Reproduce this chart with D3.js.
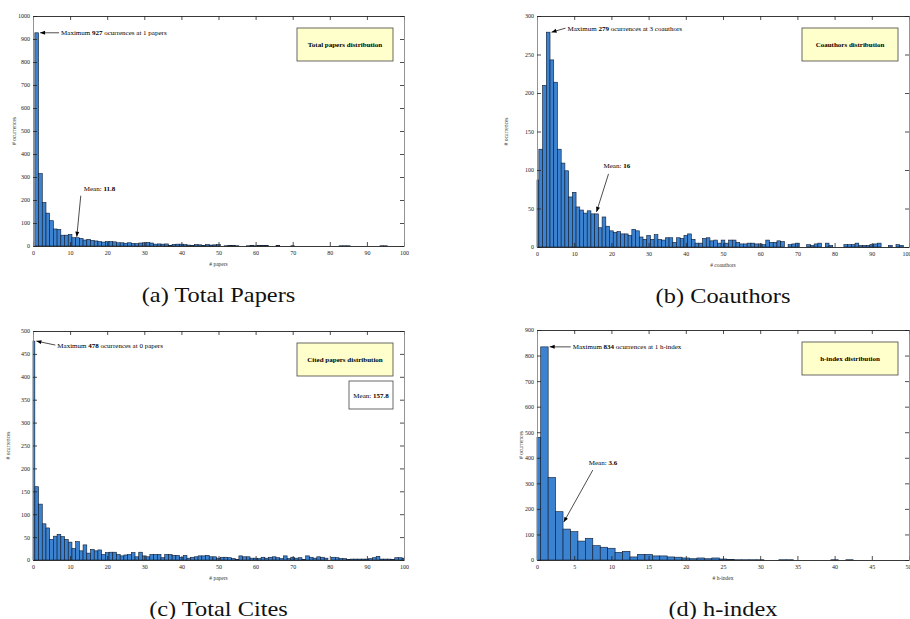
<!DOCTYPE html>
<html>
<head>
<meta charset="utf-8">
<style>
body{margin:0;background:#fff;}
text{font-family:"Liberation Serif","Times New Roman",serif;}
</style>
<script src="https://d3js.org/d3.v7.min.js"></script>
</head>
<body>
<script>
// histogram counts, one value per integer bin (bin i covers i-0.5 .. i+0.5)
const papersCounts = [0,927,315,189,143,110,74,72,47,47,50,
  36,36,33,26,29,24,22,19,17,19,
  19,18,14,14,12,14,11,10,13,14,
  15,13,8,9,8,9,3,7,8,8,
  6,4,3,6,5,2,6,4,5,6,
  0,1,2,2,1,0,0,1,2,1,
  3,3,2,0,0,2,0,0,0,1,
  0,0,0,0,0,0,0,0,0,0,
  0,0,1,1,1,0,0,0,0,0,
  0,0,0,1,1,0,0,0,0,0];
const coauthorsCounts = [87,127,210,279,243,214,127,109,99,65,71,
  52,48,44,47,43,43,25,39,27,21,
  19,20,17,17,15,23,21,13,10,15,
  10,16,10,9,12,12,6,12,11,15,
  17,10,5,5,11,12,8,9,5,9,
  5,9,9,6,4,4,5,5,4,4,
  3,9,6,6,8,7,0,3,4,5,
  0,0,3,2,4,5,0,5,2,0,
  0,0,3,3,3,5,2,2,2,3,
  4,5,0,0,2,0,3,2,0,0];
const citesCounts = [478,160,122,79,70,45,52,56,51,45,39,
  25,40,20,33,15,23,20,22,12,16,
  17,17,12,9,11,12,16,7,17,9,
  7,12,12,12,5,12,12,10,10,6,
  10,4,6,7,9,9,10,7,7,4,
  6,6,5,3,1,9,7,7,4,4,
  3,6,4,6,7,5,3,9,3,6,
  4,5,1,9,6,4,7,6,4,0,
  6,5,3,3,1,2,2,2,2,2,
  3,5,8,2,2,2,1,5,5,4];
const hindexCounts = [480,834,323,189,121,111,74,85,56,50,46,
  30,34,12,22,22,16,16,12,11,8,
  5,8,5,8,4,2,1,1,1,1,
  0,0,1,1,0,0,0,0,0,1,
  0,1,0,0,0,0,0,0,0,0];

const xTicks100 = [0,10,20,30,40,50,60,70,80,90,100];
const xTicks50 = [0,5,10,15,20,25,30,35,40,45,50];
const yTicksPapers = [0,100,200,300,400,500,600,700,800,900,1000];
const yTicksCoauthors = [0,50,100,150,200,250,300];
const yTicksCites = [0,50,100,150,200,250,300,350,400,450,500];
const yTicksHindex = [0,100,200,300,400,500,600,700,800,900];

const means = [11.8, 16, 157.8, 3.6];
const maxBins = [1, 3, 0, 1];

const panels = [
  {counts: papersCounts, xTicks: xTicks100, yTicks: yTicksPapers, mean: means[0], maxBin: maxBins[0],
   unit: "papers", xLabel: "# papers", title: "Total papers distribution", caption: "(a) Total Papers",
   left: 33, right: 404, top: 16, bottom: 246, ylx: 17,
   maxOff: [21, 0], meanArrow: true, meanText: [7, -48], meanTail: [4, -41], meanGap: 1},
  {counts: coauthorsCounts, xTicks: xTicks100, yTicks: yTicksCoauthors, mean: means[1], maxBin: maxBins[1],
   unit: "coauthors", xLabel: "# coauthors", title: "Coauthors distribution", caption: "(b) Coauthors",
   left: 537, right: 909, top: 16, bottom: 247, ylx: 29,
   maxOff: [16, -4], meanArrow: true, meanText: [7, -46], meanTail: [12, -38], meanGap: 2},
  {counts: citesCounts, xTicks: xTicks100, yTicks: yTicksCites, mean: means[2], maxBin: maxBins[2],
   unit: "papers", xLabel: "# papers", title: "Cited papers distribution", caption: "(c) Total Cites",
   left: 33, right: 404, top: 331, bottom: 560, ylx: 23,
   maxOff: [21, 4], meanArrow: false},
  {counts: hindexCounts, xTicks: xTicks50, yTicks: yTicksHindex, mean: means[3], maxBin: maxBins[3],
   unit: "h-index", xLabel: "# h-index", title: "h-index distribution", caption: "(d) h-index",
   left: 537, right: 909, top: 330, bottom: 560, ylx: 14,
   maxOff: [23, 0], meanArrow: true, meanText: [25, -60], meanTail: [29, -52], meanGap: 7}
];

const W = 910, H = 619;
const svg = d3.select("body").append("svg")
  .attr("width", W).attr("height", H)
  .style("display", "block").style("background", "#fff");

svg.append("defs").append("marker")
  .attr("id", "arr").attr("viewBox", "0 0 10 10")
  .attr("refX", 10).attr("refY", 5)
  .attr("markerUnits", "userSpaceOnUse")
  .attr("markerWidth", 6).attr("markerHeight", 5)
  .attr("orient", "auto")
  .append("path").attr("d", "M0,1L10,5L0,9z").attr("fill", "#000");

function styleAxis(g, col){
  g.attr("font-family", null).attr("font-size", null);
  g.select(".domain").attr("stroke", col).attr("stroke-width", 0.9);
  g.selectAll(".tick line").attr("stroke", "#222").attr("stroke-width", 0.8);
  g.selectAll(".tick text").attr("fill", "#222").style("font-size", "6px");
}

function drawPanel(p){
  const g = svg.append("g");
  const xMax = p.xTicks[p.xTicks.length - 1];
  const yMax = p.yTicks[p.yTicks.length - 1];
  const x = d3.scaleLinear().domain([0, xMax]).range([p.left, p.right]);
  const y = d3.scaleLinear().domain([0, yMax]).range([p.bottom, p.top]);

  const bins = p.counts.map((c, i) => ({i: i, c: c})).filter(d => d.c > 0);
  g.selectAll("rect.bar").data(bins).join("rect")
    .attr("class", "bar")
    .attr("x", d => x(Math.max(0, d.i - 0.5)))
    .attr("width", d => x(Math.min(xMax, d.i + 0.5)) - x(Math.max(0, d.i - 0.5)))
    .attr("y", d => y(d.c))
    .attr("height", d => y(0) - y(d.c))
    .attr("fill", "#3b82d0")
    .attr("stroke", "#0d1a2e")
    .attr("stroke-width", 0.6);

  const fmt = d3.format("d");
  const ax = [
    g.append("g").attr("transform", `translate(0,${p.bottom})`)
      .call(d3.axisBottom(x).tickValues(p.xTicks).tickFormat(fmt).tickSizeInner(-4).tickSizeOuter(0).tickPadding(5)),
    g.append("g").attr("transform", `translate(0,${p.top})`)
      .call(d3.axisTop(x).tickValues(p.xTicks).tickSizeInner(-4).tickSizeOuter(0).tickFormat("")),
    g.append("g").attr("transform", `translate(${p.left},0)`)
      .call(d3.axisLeft(y).tickValues(p.yTicks).tickFormat(fmt).tickSizeInner(-4).tickSizeOuter(0).tickPadding(3)),
    g.append("g").attr("transform", `translate(${p.right},0)`)
      .call(d3.axisRight(y).tickValues(p.yTicks).tickSizeInner(-4).tickSizeOuter(0).tickFormat(""))
  ];
  styleAxis(ax[0], "#222");
  styleAxis(ax[1], "#222");
  styleAxis(ax[2], "#888");
  styleAxis(ax[3], "#888");
  // keep the last x label inside the page when the axis ends at the edge
  if (p.right + 6 > W) {
    ax[0].selectAll(".tick text").filter(d => d === xMax).attr("text-anchor", "end").attr("dx", 2);
  }

  // axis labels
  g.append("text")
    .attr("x", (p.left + p.right) / 2).attr("y", p.bottom + 20)
    .attr("text-anchor", "middle").style("font-size", "5.5px").attr("fill", "#333")
    .text(p.xLabel);
  g.append("text")
    .attr("transform", `translate(${p.left - p.ylx},${(p.top + p.bottom) / 2}) rotate(-90)`)
    .attr("text-anchor", "middle").style("font-size", "5.5px").attr("fill", "#333")
    .text("# ocurrences");

  // title box
  const bx = p.right - 107, by = p.top + 12;
  g.append("rect").attr("x", bx).attr("y", by).attr("width", 96).attr("height", 33)
    .attr("fill", "#ffffcc").attr("stroke", "#444").attr("stroke-width", 0.8);
  g.append("text").attr("x", bx + 48).attr("y", by + 19)
    .attr("text-anchor", "middle").style("font-size", "7px").style("font-weight", "bold")
    .text(p.title);

  // maximum annotation
  const maxVal = p.counts[p.maxBin];
  const tip = [x(Math.min(xMax, p.maxBin + 0.5)) + 1.5, y(maxVal)];
  const tx = tip[0] + p.maxOff[0], ty = tip[1] + p.maxOff[1];
  g.append("line").attr("x1", tx - 2).attr("y1", ty).attr("x2", tip[0]).attr("y2", tip[1])
    .attr("stroke", "#000").attr("stroke-width", 0.7).attr("marker-end", "url(#arr)");
  const mt = g.append("text").attr("x", tx).attr("y", ty + 2.5).style("font-size", "7px");
  mt.append("tspan").text("Maximum ");
  mt.append("tspan").style("font-weight", "bold").text(maxVal);
  mt.append("tspan").text(" ocurrences at " + p.maxBin + " " + p.unit);

  // mean annotation
  if (p.meanArrow) {
    const mtip = [x(p.mean), y(p.counts[Math.round(p.mean)]) - p.meanGap];
    g.append("line")
      .attr("x1", mtip[0] + p.meanTail[0]).attr("y1", mtip[1] + p.meanTail[1])
      .attr("x2", mtip[0]).attr("y2", mtip[1])
      .attr("stroke", "#000").attr("stroke-width", 0.7).attr("marker-end", "url(#arr)");
    const mm = g.append("text").attr("x", mtip[0] + p.meanText[0]).attr("y", mtip[1] + p.meanText[1] + 2.5)
      .style("font-size", "7px");
    mm.append("tspan").text("Mean: ");
    mm.append("tspan").style("font-weight", "bold").text(p.mean);
  } else {
    const mx = p.right - 55, my = p.top + 50;
    g.append("rect").attr("x", mx).attr("y", my).attr("width", 44).attr("height", 28)
      .attr("fill", "#fff").attr("stroke", "#444").attr("stroke-width", 0.8);
    const mm = g.append("text").attr("x", mx + 22).attr("y", my + 16.5)
      .attr("text-anchor", "middle").style("font-size", "7px");
    mm.append("tspan").text("Mean: ");
    mm.append("tspan").style("font-weight", "bold").text(p.mean);
  }

  // caption (widened a little to look like the LaTeX serif)
  svg.append("text")
    .attr("transform", `translate(${(p.left + p.right) / 2},${p.bottom + 56}) scale(1.22,1)`)
    .attr("text-anchor", "middle").style("font-size", "20px").attr("fill", "#111")
    .text(p.caption);
}

panels.forEach(drawPanel);
</script>
</body>
</html>
